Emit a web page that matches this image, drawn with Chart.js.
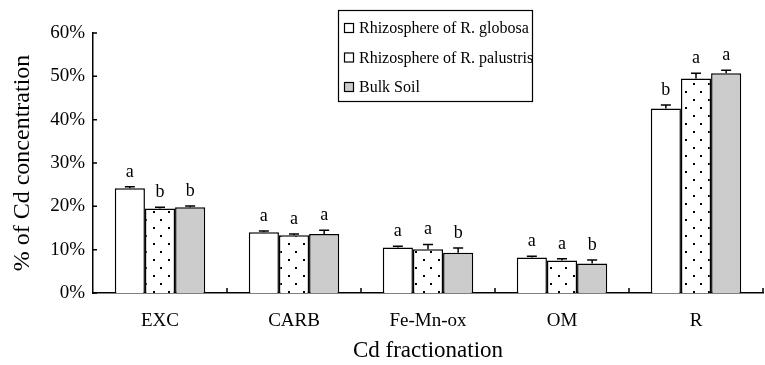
<!DOCTYPE html>
<html>
<head>
<meta charset="utf-8">
<script src="https://cdn.jsdelivr.net/npm/chart.js@4.4.0/dist/chart.umd.min.js"></script>
<style>
  html, body { margin: 0; padding: 0; background: #fff; }
  #wrap { width: 765px; height: 365px; }
</style>
</head>
<body>
<div id="wrap"><canvas id="cdChart" width="765" height="365"></canvas></div>
<script>
const categories = ['EXC', 'CARB', 'Fe-Mn-ox', 'OM', 'R'];
const seriesNames = ['Rhizosphere of R. globosa', 'Rhizosphere of R. palustris', 'Bulk Soil'];
const globosa = [24.2, 14.0, 10.5, 8.2, 42.6];
const palustris = [19.5, 13.3, 10.1, 7.5, 49.5];
const bulkSoil = [19.8, 13.6, 9.3, 6.8, 50.7];
const globosaErr = [0.3, 0.3, 0.3, 0.3, 0.8];
const palustrisErr = [0.3, 0.3, 1.1, 0.4, 1.2];
const bulkSoilErr = [0.3, 0.9, 1.1, 0.8, 0.7];
const globosaLetters = ['a', 'a', 'a', 'a', 'b'];
const palustrisLetters = ['b', 'a', 'a', 'a', 'a'];
const bulkSoilLetters = ['b', 'a', 'b', 'b', 'a'];
const yTicks = [0, 10, 20, 30, 40, 50, 60];

const serif = '"Liberation Serif", "Times New Roman", serif';
Chart.defaults.font.family = serif;
Chart.defaults.color = '#000';

// dotted fill for R. palustris
function dotPattern() {
    let c = document.createElement('canvas');
    c.width = 15;
    c.height = 16;
    let g = c.getContext('2d');
    g.fillStyle = '#fff';
    g.fillRect(0, 0, 15, 16);
    g.fillStyle = '#000';
    g.fillRect(3, 3, 2, 2);
    g.fillRect(10, 11, 2, 2);
    return g.createPattern(c, 'repeat');
}

const extras = {
    id: 'extras',
    afterDatasetsDraw(chart) {
        const ctx = chart.ctx;
        const x = chart.scales.x, y = chart.scales.y;
        ctx.save();
        ctx.strokeStyle = '#000';
        ctx.fillStyle = '#000';
        ctx.lineWidth = 1.5;
        ctx.font = '18px ' + serif;
        ctx.textAlign = 'center';
        ctx.textBaseline = 'alphabetic';
        chart.data.datasets.forEach((ds, i) => {
            chart.getDatasetMeta(i).data.forEach((bar, j) => {
                let top = y.getPixelForValue(ds.data[j] + ds.errors[j]);
                ctx.beginPath();
                ctx.moveTo(bar.x, bar.y);
                ctx.lineTo(bar.x, top);
                ctx.moveTo(bar.x - 5, top);
                ctx.lineTo(bar.x + 5, top);
                ctx.stroke();
                ctx.fillText(ds.letters[j], bar.x, top - 10);
            });
        });
        // inward tick marks
        ctx.beginPath();
        yTicks.forEach(v => {
            let py = y.getPixelForValue(v);
            ctx.moveTo(x.left, py);
            ctx.lineTo(x.left + 4, py);
        });
        for (let k = 1; k <= categories.length; k++) {
            let px = x.getPixelForValue(k - 0.5);
            ctx.moveTo(px, y.bottom);
            ctx.lineTo(px, y.bottom - 5);
        }
        ctx.stroke();
        ctx.restore();
    },
    afterDraw(chart) {
        const ctx = chart.ctx;
        ctx.save();
        ctx.strokeStyle = '#000';
        ctx.lineWidth = 1.2;
        ctx.strokeRect(338.5, 10.5, 194, 91);
        ctx.font = '16px ' + serif;
        ctx.textAlign = 'left';
        ctx.textBaseline = 'middle';
        chart.data.datasets.forEach((ds, i) => {
            let cy = 28 + i * 29.5;
            ctx.fillStyle = ds.backgroundColor;
            ctx.fillRect(344.5, cy - 4.5, 9, 9);
            ctx.lineWidth = 1.2;
            ctx.strokeRect(344.5, cy - 4.5, 9, 9);
            ctx.fillStyle = '#000';
            ctx.fillText(ds.label, 359, cy + 1);
        });
        ctx.restore();
    }
};

const barStyle = {
    borderColor: '#000',
    borderWidth: 1.5,
    borderSkipped: 'bottom',
    barPercentage: 1,
    categoryPercentage: 0.675
};

new Chart(document.getElementById('cdChart'), {
    type: 'bar',
    data: {
        labels: categories,
        datasets: [
            { label: seriesNames[0], data: globosa, errors: globosaErr, letters: globosaLetters, backgroundColor: '#ffffff', ...barStyle },
            { label: seriesNames[1], data: palustris, errors: palustrisErr, letters: palustrisLetters, backgroundColor: dotPattern(), ...barStyle },
            { label: seriesNames[2], data: bulkSoil, errors: bulkSoilErr, letters: bulkSoilLetters, backgroundColor: '#cccccc', ...barStyle }
        ]
    },
    options: {
        responsive: false,
        animation: false,
        layout: { padding: { top: 33, right: 2, left: 0, bottom: 0 } },
        plugins: {
            legend: { display: false },
            tooltip: { enabled: false }
        },
        scales: {
            x: {
                grid: { display: false },
                border: { display: true, color: '#000', width: 1.5 },
                ticks: { font: { size: 19 }, padding: 9, color: '#000' },
                title: { display: true, text: 'Cd fractionation', font: { size: 23 }, padding: { top: 0, bottom: 0 } },
                afterFit: s => { s.height = 72; }
            },
            y: {
                min: 0,
                max: 60,
                grid: { display: false },
                border: { display: true, color: '#000', width: 1.5 },
                ticks: { stepSize: 10, font: { size: 19 }, padding: 0, color: '#000', callback: v => v + '%' },
                title: { display: true, text: '% of Cd concentration', font: { size: 24 }, padding: { top: 8, bottom: 0 } },
                afterFit: s => { s.width = 93; }
            }
        }
    },
    plugins: [extras]
});
</script>
</body>
</html>
